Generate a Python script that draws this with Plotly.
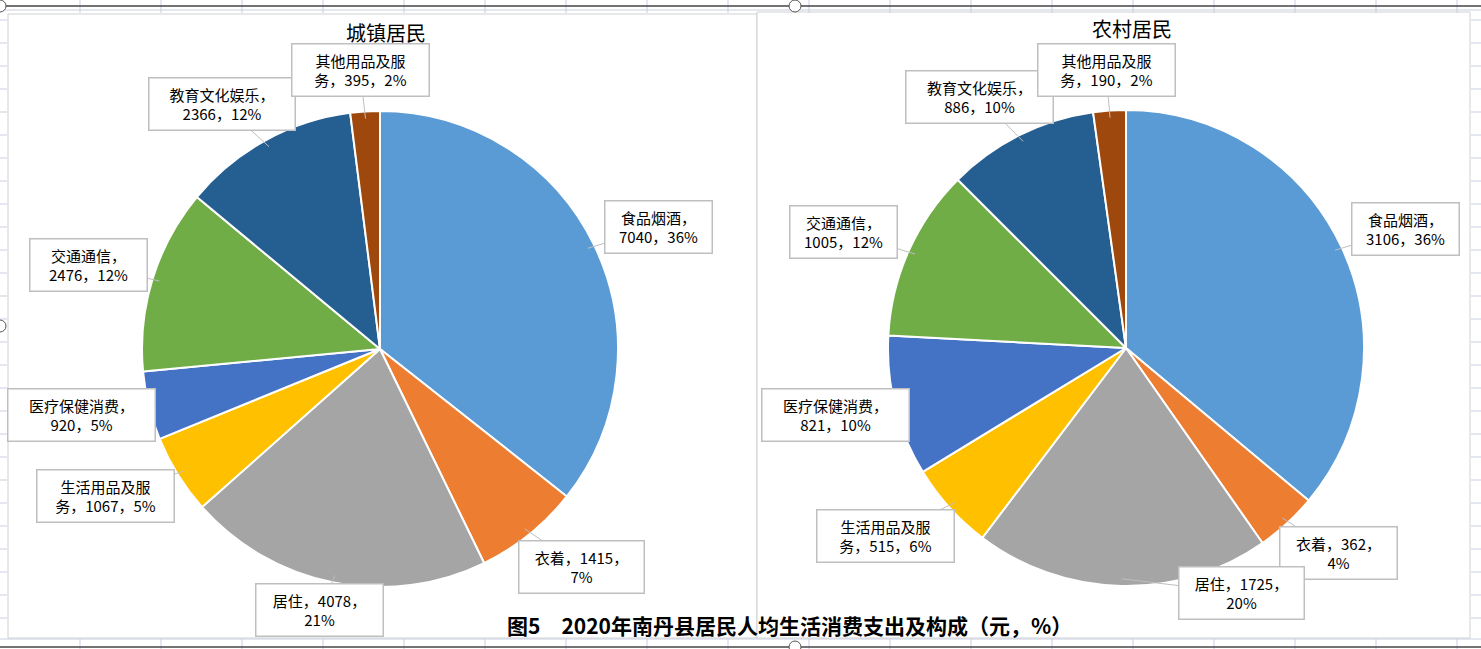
import math
import plotly.graph_objects as go

# 消费类别
categories = ["食品烟酒", "衣着", "居住", "生活用品及服务", "医疗保健消费",
              "交通通信", "教育文化娱乐", "其他用品及服务"]

# 城镇居民 / 农村居民 人均支出（元）
urban_values = [7040, 1415, 4078, 1067, 920, 2476, 2366, 395]
rural_values = [3106, 362, 1725, 515, 821, 1005, 886, 190]

# 标签文字（按 Excel 数据标签的换行方式）
urban_labels = ["食品烟酒，<br>7040，36%", "衣着，1415，<br>7%", "居住，4078，<br>21%",
                "生活用品及服<br>务，1067，5%", "医疗保健消费，<br>920，5%",
                "交通通信，<br>2476，12%", "教育文化娱乐，<br>2366，12%", "其他用品及服<br>务，395，2%"]
rural_labels = ["食品烟酒，<br>3106，36%", "衣着，362，<br>4%", "居住，1725，<br>20%",
                "生活用品及服<br>务，515，6%", "医疗保健消费，<br>821，10%",
                "交通通信，<br>1005，12%", "教育文化娱乐，<br>886，10%", "其他用品及服<br>务，190，2%"]

colors = ["#5B9BD5", "#ED7D31", "#A5A5A5", "#FFC000", "#4472C4", "#70AD47", "#255E91", "#9E480E"]

W, H = 1481, 649

# pie centre / radius in pixels
urban_c, rural_c, R = (380, 349), (1126, 348), 238

# label box centres and widths (pixels)
urban_boxes = [(658, 227, 110), (581, 567, 128), (319, 610, 130), (105, 496, 140),
               (81, 415, 150), (88, 265, 120), (222, 104, 149), (360, 70, 140)]
rural_boxes = [(1405, 229, 110), (1338, 553, 120), (1241, 593, 128), (885, 536, 140),
               (835, 415, 150), (844, 232, 110), (979, 97, 150), (1106, 70, 140)]


def domain(c):
    return dict(x=[(c[0] - R) / W, (c[0] + R) / W],
                y=[1 - (c[1] + R) / H, 1 - (c[1] - R) / H])


fig = go.Figure()
for vals, c, name in [(urban_values, urban_c, "城镇居民"), (rural_values, rural_c, "农村居民")]:
    fig.add_trace(go.Pie(
        labels=categories, values=vals, name=name, domain=domain(c),
        sort=False, direction="clockwise", rotation=0,
        marker=dict(colors=colors, line=dict(color="white", width=2)),
        textinfo="none", showlegend=False,
    ))

annotations = []


def add_labels(vals, labels, boxes, c):
    total = sum(vals)
    cum = 0
    for v, lab, (bx, by, bw) in zip(vals, labels, boxes):
        mid = (cum + v / 2) / total * 2 * math.pi
        cum += v
        tx = c[0] + R * 0.97 * math.sin(mid)
        ty = c[1] - R * 0.97 * math.cos(mid)
        annotations.append(dict(
            x=tx / W, y=1 - ty / H, xref="paper", yref="paper",
            ax=bx - tx, ay=by - ty, axref="pixel", ayref="pixel",
            text=lab, showarrow=True, arrowhead=0, arrowwidth=1, arrowcolor="#BFBFBF",
            width=bw - 8, height=47, align="center", valign="middle",
            bgcolor="white", bordercolor="#BFBFBF", borderwidth=1.5, borderpad=2,
            font=dict(family="Noto Sans CJK SC", size=15, color="#000000"),
        ))


add_labels(urban_values, urban_labels, urban_boxes, urban_c)
add_labels(rural_values, rural_labels, rural_boxes, rural_c)

# titles
title_font = dict(family="Noto Sans CJK SC", size=20, color="#000")
annotations.append(dict(x=386 / W, y=1 - 32 / H, xref="paper", yref="paper", text="城镇居民",
                        xanchor="center", yanchor="middle", showarrow=False, font=title_font))
annotations.append(dict(x=1132 / W, y=1 - 28 / H, xref="paper", yref="paper", text="农村居民",
                        xanchor="center", yanchor="middle", showarrow=False, font=title_font))
annotations.append(dict(x=789 / W, y=1 - 625 / H, xref="paper", yref="paper",
                        text="<b>图5　2020年南丹县居民人均生活消费支出及构成（元，%）</b>",
                        xanchor="center", yanchor="middle", showarrow=False,
                        font=dict(family="Noto Sans CJK SC", size=21, color="#000")))

# spreadsheet background: grid lines, chart borders, selection handles
shapes = []
grid = dict(color="#C9CFE0", width=1)
for gx in range(80, W, 81):
    shapes.append(dict(type="line", xref="paper", yref="paper", x0=gx / W, x1=gx / W,
                       y0=1 - 0 / H, y1=1 - 13 / H, line=grid))
    shapes.append(dict(type="line", xref="paper", yref="paper", x0=gx / W, x1=gx / W,
                       y0=1 - 639 / H, y1=0, line=grid))
for gy in range(20, 640, 23):
    shapes.append(dict(type="line", xref="paper", yref="paper", x0=0, x1=7 / W,
                       y0=1 - gy / H, y1=1 - gy / H, line=grid))
    shapes.append(dict(type="line", xref="paper", yref="paper", x0=1471 / W, x1=1,
                       y0=1 - gy / H, y1=1 - gy / H, line=grid))
shapes.append(dict(type="line", xref="paper", yref="paper", x0=0, x1=1, y0=1 - 10 / H, y1=1 - 10 / H,
                   line=dict(color="#C9CFE0", width=1)))
shapes.append(dict(type="line", xref="paper", yref="paper", x0=0, x1=1, y0=1 - 639 / H, y1=1 - 639 / H,
                   line=dict(color="#C9CFE0", width=1)))
shapes.append(dict(type="rect", xref="paper", yref="paper", x0=8 / W, x1=757 / W,
                   y0=1 - 638 / H, y1=1 - 14 / H, line=dict(color="#D0D0D0", width=1),
                   fillcolor="white", layer="below"))
shapes.append(dict(type="rect", xref="paper", yref="paper", x0=757 / W, x1=1470 / W,
                   y0=1 - 638 / H, y1=1 - 12 / H, line=dict(color="#D0D0D0", width=1),
                   fillcolor="white", layer="below"))
shapes.append(dict(type="line", xref="paper", yref="paper", x0=0, x1=1, y0=1 - 6 / H, y1=1 - 6 / H,
                   line=dict(color="#444", width=1.5)))
shapes.append(dict(type="line", xref="paper", yref="paper", x0=0, x1=1, y0=1 - 647 / H, y1=1 - 647 / H,
                   line=dict(color="#444", width=1.5)))
for hx, hy in [(795, 6), (795, 647), (0, 6), (0, 326)]:
    shapes.append(dict(type="circle", xref="paper", yref="paper",
                       x0=(hx - 6) / W, x1=(hx + 6) / W, y0=1 - (hy + 6) / H, y1=1 - (hy - 6) / H,
                       fillcolor="white", line=dict(color="#555", width=1)))

fig.update_layout(
    width=W, height=H, autosize=False,
    margin=dict(l=0, r=0, t=0, b=0),
    paper_bgcolor="white", plot_bgcolor="white",
    annotations=annotations, shapes=shapes,
)

# drop the browser's default 8px body margin so the figure fills the window
fig.write_html("out.html", config={"displayModeBar": False},
               post_script="document.body.style.margin='0';")
